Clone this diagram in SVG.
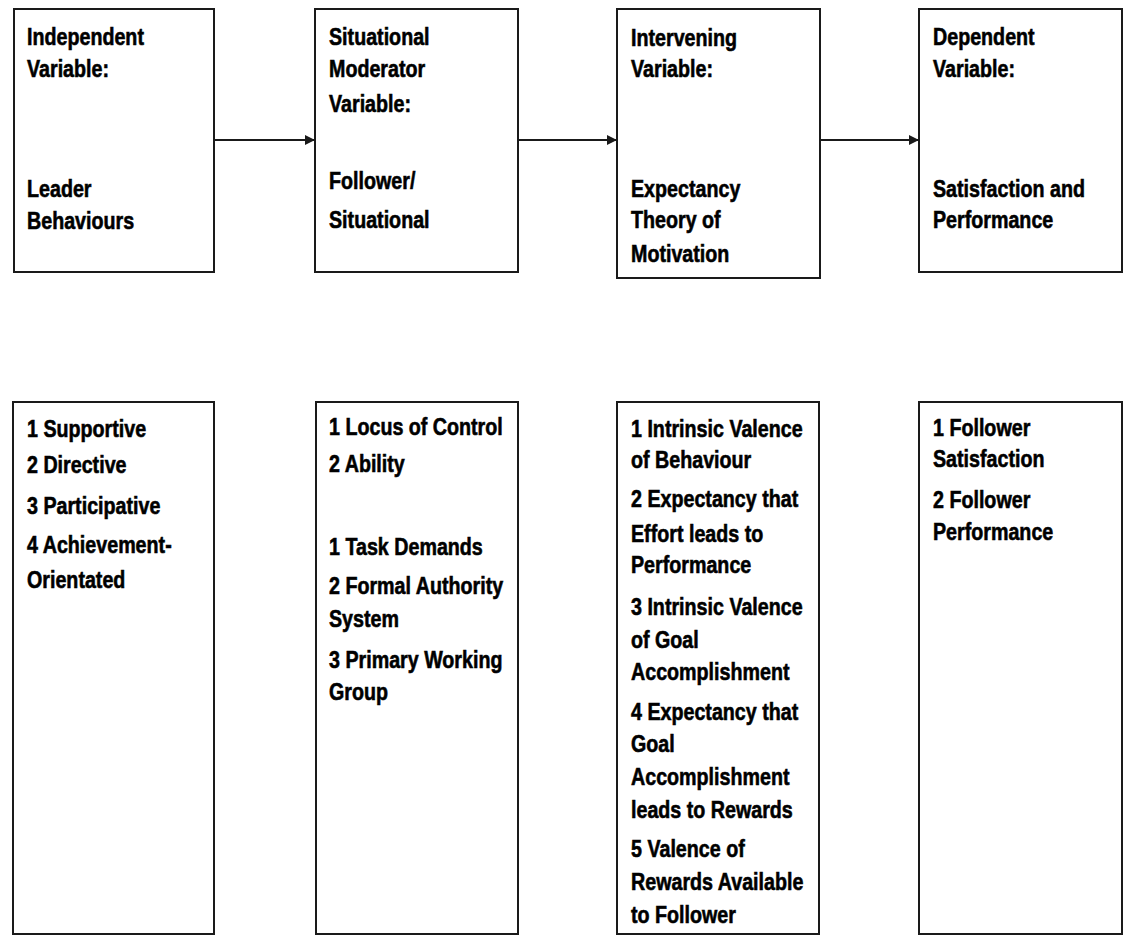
<svg xmlns="http://www.w3.org/2000/svg" width="1127" height="936" viewBox="0 0 1127 936">
  <style>
    .box { fill: #fff; stroke: #1a1a1a; stroke-width: 2; }
    .t { font-family: "Liberation Sans", Arial, sans-serif; font-weight: bold; font-size: 24px; fill: #000; stroke: #000; stroke-width: 0.6; }
    .link { stroke: #1a1a1a; stroke-width: 2; fill: none; }
  </style>
  <defs>
    <marker id="arrow" viewBox="0 0 10 10" refX="10" refY="5" markerWidth="5" markerHeight="5" orient="auto" markerUnits="strokeWidth">
      <path d="M0,0 L10,5 L0,10 z" fill="#1a1a1a"/>
    </marker>
  </defs>
  <rect width="1127" height="936" fill="#fff"/>

  <!-- top row -->
  <g id="independent">
    <rect class="box" x="14" y="9" width="200" height="263"/>
    <text class="t" transform="translate(27 0) scale(0.82 1)">
      <tspan x="0" y="45">Independent</tspan>
      <tspan x="0" y="77">Variable:</tspan>
      <tspan x="0" y="197">Leader</tspan>
      <tspan x="0" y="229">Behaviours</tspan>
    </text>
  </g>
  <g id="moderator">
    <rect class="box" x="315" y="9" width="203" height="263"/>
    <text class="t" transform="translate(329 0) scale(0.82 1)">
      <tspan x="0" y="45">Situational</tspan>
      <tspan x="0" y="77">Moderator</tspan>
      <tspan x="0" y="112">Variable:</tspan>
      <tspan x="0" y="189">Follower/</tspan>
      <tspan x="0" y="228">Situational</tspan>
    </text>
  </g>
  <g id="intervening">
    <rect class="box" x="617" y="9" width="203" height="269"/>
    <text class="t" transform="translate(631 0) scale(0.82 1)">
      <tspan x="0" y="46">Intervening</tspan>
      <tspan x="0" y="77">Variable:</tspan>
      <tspan x="0" y="197">Expectancy</tspan>
      <tspan x="0" y="228">Theory of</tspan>
      <tspan x="0" y="262">Motivation</tspan>
    </text>
  </g>
  <g id="dependent">
    <rect class="box" x="919" y="9" width="203" height="263"/>
    <text class="t" transform="translate(933 0) scale(0.82 1)">
      <tspan x="0" y="45">Dependent</tspan>
      <tspan x="0" y="77">Variable:</tspan>
      <tspan x="0" y="197">Satisfaction and</tspan>
      <tspan x="0" y="228">Performance</tspan>
    </text>
  </g>

  <!-- bottom row -->
  <g id="leader-behaviours">
    <rect class="box" x="13" y="402" width="201" height="532"/>
    <text class="t" transform="translate(27 0) scale(0.82 1)">
      <tspan x="0" y="437">1 Supportive</tspan>
      <tspan x="0" y="473">2 Directive</tspan>
      <tspan x="0" y="514">3 Participative</tspan>
      <tspan x="0" y="553">4 Achievement-</tspan>
      <tspan x="0" y="588">Orientated</tspan>
    </text>
  </g>
  <g id="situational-factors">
    <rect class="box" x="316" y="402" width="202" height="532"/>
    <text class="t" transform="translate(329 0) scale(0.82 1)">
      <tspan x="0" y="435">1 Locus of Control</tspan>
      <tspan x="0" y="472">2 Ability</tspan>
      <tspan x="0" y="555">1 Task Demands</tspan>
      <tspan x="0" y="594">2 Formal Authority</tspan>
      <tspan x="0" y="627">System</tspan>
      <tspan x="0" y="668">3 Primary Working</tspan>
      <tspan x="0" y="700">Group</tspan>
    </text>
  </g>
  <g id="expectancy-factors">
    <rect class="box" x="617" y="402" width="202" height="532"/>
    <text class="t" transform="translate(631 0) scale(0.82 1)">
      <tspan x="0" y="437">1 Intrinsic Valence</tspan>
      <tspan x="0" y="468">of Behaviour</tspan>
      <tspan x="0" y="507">2 Expectancy that</tspan>
      <tspan x="0" y="542">Effort leads to</tspan>
      <tspan x="0" y="573">Performance</tspan>
      <tspan x="0" y="615">3 Intrinsic Valence</tspan>
      <tspan x="0" y="648">of Goal</tspan>
      <tspan x="0" y="680">Accomplishment</tspan>
      <tspan x="0" y="720">4 Expectancy that</tspan>
      <tspan x="0" y="752">Goal</tspan>
      <tspan x="0" y="785">Accomplishment</tspan>
      <tspan x="0" y="818">leads to Rewards</tspan>
      <tspan x="0" y="857">5 Valence of</tspan>
      <tspan x="0" y="890">Rewards Available</tspan>
      <tspan x="0" y="923">to Follower</tspan>
    </text>
  </g>
  <g id="outcomes">
    <rect class="box" x="919" y="402" width="203" height="532"/>
    <text class="t" transform="translate(933 0) scale(0.82 1)">
      <tspan x="0" y="436">1 Follower</tspan>
      <tspan x="0" y="467">Satisfaction</tspan>
      <tspan x="0" y="508">2 Follower</tspan>
      <tspan x="0" y="540">Performance</tspan>
    </text>
  </g>

  <!-- connectors -->
  <g id="connectors">
    <line class="link" x1="215" y1="140" x2="315" y2="140" marker-end="url(#arrow)"/>
    <line class="link" x1="519" y1="140" x2="617" y2="140" marker-end="url(#arrow)"/>
    <line class="link" x1="821" y1="140" x2="919" y2="140" marker-end="url(#arrow)"/>
  </g>
</svg>
